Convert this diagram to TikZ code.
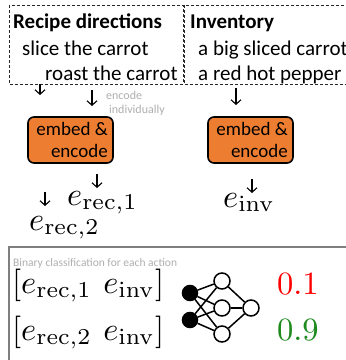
\documentclass[tikz,border=0pt]{standalone}
\usepackage[no-math]{fontspec}
\usepackage{graphicx}
\setmainfont{Carlito}
\usetikzlibrary{arrows.meta}
\definecolor{boxorange}{HTML}{ED7D31}
\definecolor{lightgraytxt}{HTML}{AFAFAF}
\definecolor{framegray}{HTML}{7F7F7F}
\definecolor{darkgreen}{HTML}{1E8A1E}
\newcommand{\bigmath}[1]{\scalebox{3.25}{$#1$}}
\tikzset{
  txt/.style={anchor=base west, inner sep=0pt, font=\fontsize{21}{24}\selectfont},
  btxt/.style={txt, font=\fontsize{21}{24}\selectfont\bfseries},
  smalltxt/.style={anchor=base west, inner sep=0pt, text=lightgraytxt, font=\fontsize{12}{14}\selectfont},
  boxtxt/.style={anchor=base east, inner sep=0pt, font=\fontsize{19}{22}\selectfont},
  mth/.style={anchor=base west, inner sep=0pt, font=\fontsize{10}{12}\selectfont},
  dashedbox/.style={draw=black!85, line width=0.9pt, dash pattern=on 3pt off 2pt},
  graybox/.style={draw=framegray, line width=1.3pt},
  encbox/.style={draw=black, line width=1.6pt, fill=boxorange, rounded corners=6pt,
    minimum width=85pt, minimum height=46pt, inner sep=0pt},
  arr/.style={-{Straight Barb[length=4.5pt,width=10pt]}, line width=1.1pt},
  neuron/.style={circle, draw=black, line width=1.5pt, fill=white, minimum size=16pt, inner sep=0pt},
  inneuron/.style={neuron, fill=black, minimum size=15pt},
  nnedge/.style={line width=1.5pt},
}
\begin{document}
\begin{tikzpicture}[x=1pt,y=-1pt]
\useasboundingbox (0,0) rectangle (346,360);
\clip (0,0) rectangle (346,360);
\fill[white] (0,0) rectangle (346,360);

% dashed input panels
\draw[dashedbox] (9,5) rectangle (183,84);
\draw[dashedbox] (184,5) rectangle (370,84);

\node[btxt] (rdh) at (13,28) {Recipe directions};
\node[txt] (r1) at (22,55) {slice the carrot};
\node[txt] (r2) at (45,80) {roast the carrot};
\node[btxt] (invh) at (190,28) {Inventory};
\node[txt] (i1t) at (198,55) {a big sliced carrot};
\node[txt] (i2t) at (198,80) {a red hot pepper};

% arrows from panels
\coordinate (a1s) at (40,84); \coordinate (a1e) at (40,95);
\coordinate (a2s) at (92,90); \coordinate (a2e) at (92,106);
\coordinate (a3s) at (236,88); \coordinate (a3e) at (236,105);
\draw[arr] (a1s) -- (a1e);
\draw[arr] (a2s) -- (a2e);
\draw[arr] (a3s) -- (a3e);

\node[smalltxt] (enc1) at (106,99) {encode};
\node[smalltxt] (enc2) at (109,113) {individually};

% encoder boxes
\node[encbox] (bl) at (70.5,140) {};
\node[encbox] (br) at (250.5,140) {};
\node[boxtxt] (bl1) at (108,135) {embed \&};
\node[boxtxt] (bl2) at (108,157) {encode};
\node[boxtxt] (br1) at (288,135) {embed \&};
\node[boxtxt] (br2) at (288,157) {encode};

% arrows below boxes
\coordinate (a4s) at (97,174); \coordinate (a4e) at (97,188);
\coordinate (a5s) at (45,192); \coordinate (a5e) at (45,206);
\coordinate (a6s) at (252,179); \coordinate (a6e) at (252,193);
\draw[arr] (a4s) -- (a4e);
\draw[arr] (a5s) -- (a5e);
\draw[arr] (a6s) -- (a6e);

\node[mth] (er1) at (67,205) {\bigmath{e_{\mathrm{rec},1}}};
\node[mth] (er2) at (29,230) {\bigmath{e_{\mathrm{rec},2}}};
\node[mth] (einv) at (223,207) {\bigmath{e_{\mathrm{inv}}}};

% classification panel
\draw[graybox] (9,247) rectangle (370,380);
\node[smalltxt, font=\fontsize{11.5}{13}\selectfont] (bin) at (13,266) {Binary classification for each action};

\node[mth] (row1) at (12,293) {\bigmath{[e_{\mathrm{rec},1}\hspace{3.5pt}e_{\mathrm{inv}}]}};
\node[mth] (row2) at (12,340) {\bigmath{[e_{\mathrm{rec},2}\hspace{3.5pt}e_{\mathrm{inv}}]}};

\node[mth, text=red] (p1) at (277,294) {\bigmath{0.1}};
\node[mth, text=darkgreen] (p2) at (277,340) {\bigmath{0.9}};

% neural network
\node[inneuron] (n1) at (190,293) {};
\node[inneuron] (n2) at (190,320) {};
\node[neuron] (h1) at (222,281) {};
\node[neuron] (h2) at (222,308) {};
\node[neuron] (h3) at (222,334) {};
\node[neuron] (o) at (251,308) {};
\foreach \a in {n1,n2}{\foreach \b in {h1,h2,h3}{\draw[nnedge] (\a) -- (\b);}}
\foreach \b in {h1,h2,h3}{\draw[nnedge] (\b) -- (o);}
\end{tikzpicture}
\end{document}
